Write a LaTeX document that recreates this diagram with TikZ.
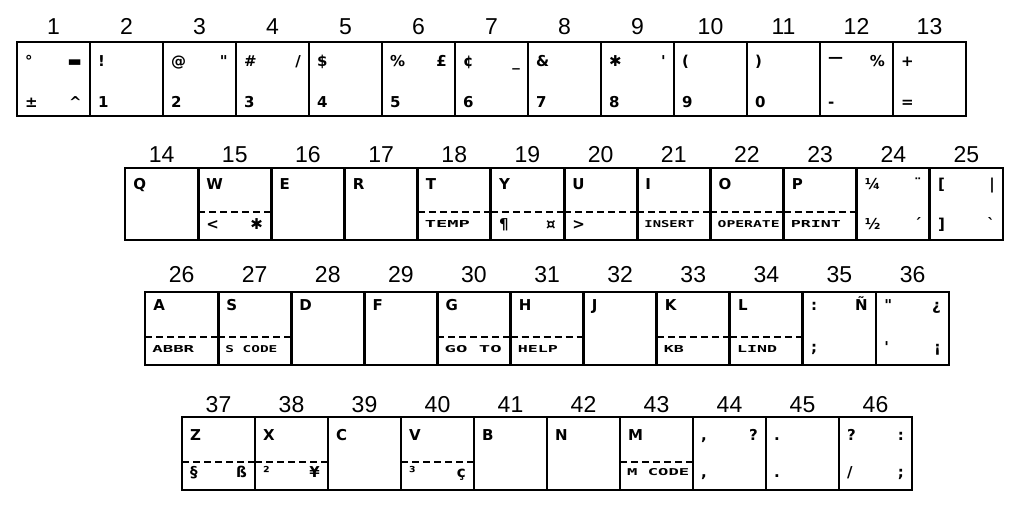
\documentclass[tikz,border=0pt]{standalone}
\usepackage{fontspec}
\usepackage{graphicx}
\setmainfont{DejaVu Sans}
\newfontfamily\numfont{Liberation Sans}
\newfontfamily\keyfont{DejaVu Sans}
\newfontfamily\wordfont{DejaVu Sans Mono}
\tikzset{
  kbkey/.style={draw, line width=2.8pt, minimum width=73pt, minimum height=#1, inner sep=0pt, outer sep=0pt},
  num/.style={font=\numfont\fontsize{23}{23}\selectfont, inner sep=0pt},
  ch/.style={font=\keyfont\bfseries\fontsize{15}{15}\selectfont, inner sep=0pt},
  wd/.style={inner sep=0pt, anchor=base west},
  dashln/.style={line width=2.2pt, dash pattern=on 7pt off 4pt}
}
\newcommand\UL[2]{\node[ch,anchor=base west] (#1ul) at ([xshift=8pt,yshift=-\ub]#1.north west) {#2};}
\newcommand\UR[2]{\node[ch,anchor=base east] (#1ur) at ([xshift=-8pt,yshift=-\ub]#1.north east) {#2};}
\newcommand\LL[2]{\node[ch,anchor=base west] (#1ll) at ([xshift=8pt,yshift=\lb]#1.south west) {#2};}
\newcommand\LR[2]{\node[ch,anchor=base east] (#1lr) at ([xshift=-8pt,yshift=\lb]#1.south east) {#2};}
\newcommand\WD[3]{\node[wd] (#1wd) at ([xshift=7pt,yshift=\wb]#1.south west) {\resizebox{#2pt}{7pt}{\wordfont\bfseries #3}};}
\newcommand\DL[1]{\draw[dashln] ([yshift=-\dy]#1.north west) -- ([yshift=-\dy]#1.north east);}
\begin{document}
\begin{tikzpicture}[x=1pt,y=-1pt]
\useasboundingbox (0,0) rectangle (1024,516);
% ---------- row 1
\foreach \i in {1,...,13} {
  \node[kbkey=74pt] (k\i) at ({17+(\i-0.5)*73},79) {};
  \node[num] (n\i) at ({17+(\i-0.5)*73},26.5) {\i};
}
\def\ub{25pt}\def\lb{9pt}
\UL{k1}{°}\UR{k1}{▬}\LL{k1}{±}\LR{k1}{\textasciicircum}
\UL{k2}{!}\LL{k2}{1}
\UL{k3}{@}\UR{k3}{\textquotedbl}\LL{k3}{2}
\UL{k4}{\#}\UR{k4}{/}\LL{k4}{3}
\UL{k5}{\$}\LL{k5}{4}
\UL{k6}{\%}\UR{k6}{£}\LL{k6}{5}
\UL{k7}{¢}\UR{k7}{\_}\LL{k7}{6}
\UL{k8}{\&}\LL{k8}{7}
\UL{k9}{✱}\UR{k9}{\textquotesingle}\LL{k9}{8}
\UL{k10}{(}\LL{k10}{9}
\UL{k11}{)}\LL{k11}{0}
\UL{k12}{\raisebox{4pt}{—}}\UR{k12}{\%}\LL{k12}{-}
\UL{k13}{+}\LL{k13}{=}
% ---------- row 2
\foreach \i in {14,...,25} {
  \node[kbkey=72pt] (k\i) at ({125+(\i-14+0.5)*73.17},204) {};
  \node[num] (n\i) at ({125+(\i-14+0.5)*73.17},154.5) {\i};
}
\def\ub{21pt}\def\lb{11pt}\def\wb{13pt}\def\dy{44pt}
\UL{k14}{Q}
\UL{k15}{W}\DL{k15}\LL{k15}{<}\LR{k15}{✱}
\UL{k16}{E}
\UL{k17}{R}
\UL{k18}{T}\DL{k18}\WD{k18}{45}{TEMP}
\UL{k19}{Y}\DL{k19}\LL{k19}{¶}\LR{k19}{¤}
\UL{k20}{U}\DL{k20}\LL{k20}{>}
\UL{k21}{I}\DL{k21}\WD{k21}{50}{INSERT}
\UL{k22}{O}\DL{k22}\WD{k22}{62}{OPERATE}
\UL{k23}{P}\DL{k23}\WD{k23}{50}{PRINT}
\UL{k24}{¼}\UR{k24}{¨}\LL{k24}{½}\LR{k24}{´}
\UL{k25}{[}\UR{k25}{|}\LL{k25}{]}\LR{k25}{\textasciigrave}
% ---------- row 3
\foreach \i in {26,...,36} {
  \node[kbkey=73pt] (k\i) at ({145+(\i-26+0.5)*73.1},328.5) {};
  \node[num] (n\i) at ({145+(\i-26+0.5)*73.1},274.5) {\i};
}
\def\ub{18pt}\def\lb{13pt}\def\wb{13pt}\def\dy{45pt}
\UL{k26}{A}\DL{k26}\WD{k26}{42}{ABBR}
\UL{k27}{S}\DL{k27}\WD{k27}{52}{S CODE}
\UL{k28}{D}
\UL{k29}{F}
\UL{k30}{G}\DL{k30}\WD{k30}{57}{GO TO}
\UL{k31}{H}\DL{k31}\WD{k31}{40}{HELP}
\UL{k32}{J}
\UL{k33}{K}\DL{k33}\WD{k33}{20}{KB}
\UL{k34}{L}\DL{k34}\WD{k34}{40}{LIND}
\UL{k35}{:}\UR{k35}{Ñ}\LL{k35}{;}
\UL{k36}{\textquotedbl}\UR{k36}{¿}\LL{k36}{\textquotesingle}\LR{k36}{¡}
% ---------- row 4
\foreach \i in {37,...,46} {
  \node[kbkey=73pt] (k\i) at ({182+(\i-37+0.5)*73},453.5) {};
  \node[num] (n\i) at ({182+(\i-37+0.5)*73},404.5) {\i};
}
\def\ub{23pt}\def\lb{13pt}\def\wb{15pt}\def\dy{45pt}
\UL{k37}{Z}\DL{k37}\LL{k37}{§}\LR{k37}{ß}
\UL{k38}{X}\DL{k38}\LL{k38}{²}\LR{k38}{¥}
\UL{k39}{C}
\UL{k40}{V}\DL{k40}\LL{k40}{³}\LR{k40}{ç}
\UL{k41}{B}
\UL{k42}{N}
\UL{k43}{M}\DL{k43}\WD{k43}{62}{M CODE}
\UL{k44}{,}\UR{k44}{?}\LL{k44}{,}
\UL{k45}{.}\LL{k45}{.}
\UL{k46}{?}\UR{k46}{:}\LL{k46}{/}\LR{k46}{;}
\end{tikzpicture}
\end{document}
